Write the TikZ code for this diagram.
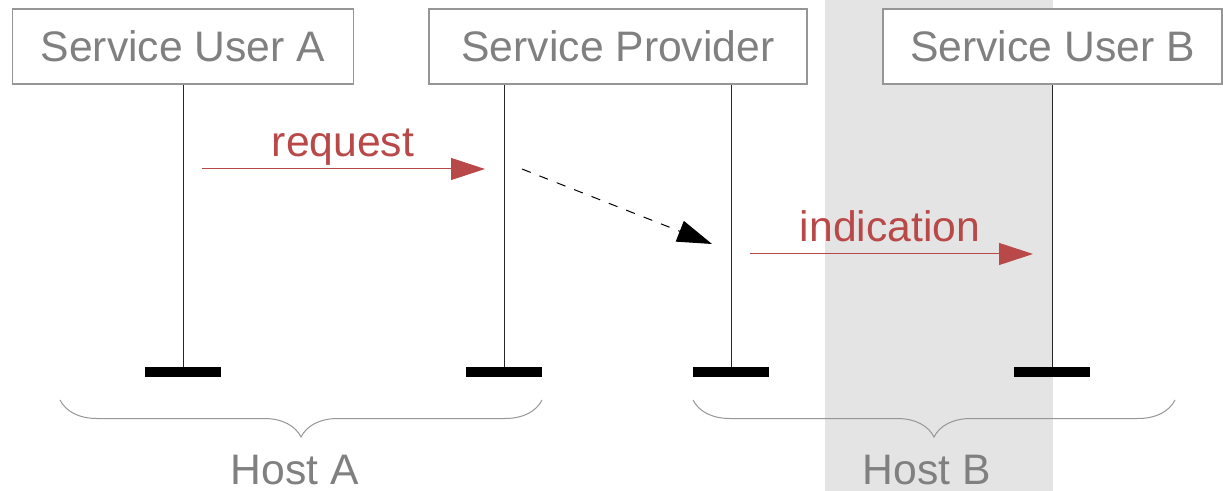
\documentclass[tikz,border=0pt]{standalone}
\usepackage{fontspec}
\setmainfont{Liberation Sans}
\usetikzlibrary{arrows.meta,decorations.pathreplacing}
\definecolor{msgred}{RGB}{185,72,72}
\definecolor{labelgray}{RGB}{128,128,128}
\definecolor{framegray}{RGB}{150,150,150}
\definecolor{hostgray}{RGB}{228,228,228}

\begin{document}
\begin{tikzpicture}[x=0.75pt,y=-0.75pt]
		\tikzstyle{entity}=[draw=framegray,fill=white,line width=1pt,text=labelgray,minimum height=56.25pt,inner sep=0pt,font=\fontsize{32}{38}\selectfont]
		\tikzstyle{stopbar}=[fill=black,minimum width=57pt,minimum height=7.5pt,inner sep=0pt]
		\tikzstyle{lifeline}=[draw=black!85,line width=0.75pt]
		\tikzstyle{msg}=[draw=msgred,line width=0.75pt,-{Triangle[length=25.5pt,width=16.5pt]}]
		\tikzstyle{relay}=[draw=black,line width=0.75pt,dash pattern=on 7pt off 7pt,-{Triangle[length=26pt,width=16.5pt]}]
		\tikzstyle{msglabel}=[text=msgred,anchor=base,inner sep=0pt,font=\fontsize{32}{38}\selectfont]
		\tikzstyle{hostlabel}=[text=labelgray,anchor=base,inner sep=0pt,font=\fontsize{32}{38}\selectfont]
		\tikzstyle{hostbrace}=[draw=framegray,line width=0.75pt,decorate,decoration={brace,mirror,amplitude=27.75pt}]

		\useasboundingbox (0,0) rectangle (1223,491);
		% host B area
		\fill[hostgray] (825,0) rectangle (1053,491);

		\node[entity,minimum width=255.75pt](ua) at (183,46.5){Service User A};
		\node[entity,minimum width=283.5pt](sp) at (618,46.5){Service Provider};
		\node[entity,minimum width=254.25pt](ub) at (1052.5,46.5){Service User B};

		\node[stopbar](ea) at (183,372){};
		\node[stopbar](ep1) at (504,372){};
		\node[stopbar](ep2) at (731,372){};
		\node[stopbar](eb) at (1052,372){};

		\path[lifeline]
			(ua) -- (ea)
			(ep1) -- (ep1 |- sp.south)
			(ep2) -- (ep2 |- sp.south)
			(eb) -- (eb |- ub.south);

		% messages
		\coordinate (rq1) at (202,169);
		\coordinate (rq2) at (485,169);
		\coordinate (fw1) at (522,169);
		\coordinate (fw2) at (712,244);
		\coordinate (in1) at (750,254);
		\coordinate (in2) at (1033,254);
		\draw[msg] (rq1) -- (rq2);
		\draw[relay] (fw1) -- (fw2);
		\draw[msg] (in1) -- (in2);
		\node[msglabel](lreq) at (343,157){request};
		\node[msglabel](lind) at (890,241.5){indication};

		% hosts
		\coordinate (ha1) at (60,400);
		\coordinate (ha2) at (542,400);
		\coordinate (hb1) at (693,400);
		\coordinate (hb2) at (1175,400);
		\draw[hostbrace] (ha1) -- (ha2);
		\draw[hostbrace] (hb1) -- (hb2);
		\node[hostlabel](hosta) at (295,484){Host A};
		\node[hostlabel](hostb) at (927,484){Host B};
\end{tikzpicture}
\end{document}
